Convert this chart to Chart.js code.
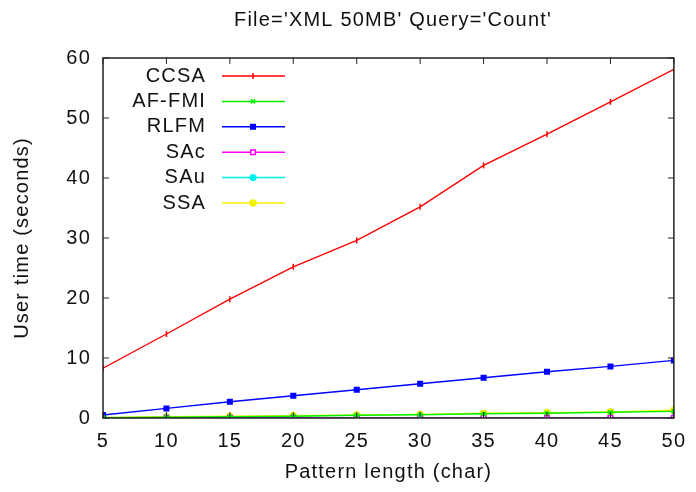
<!DOCTYPE html>
<html lang="en">
<head>
    <meta charset="UTF-8">
    <title>File='XML 50MB' Query='Count'</title>
    <script src="https://cdn.jsdelivr.net/npm/chart.js"></script>
    <style>
        body { margin: 0; background: #fff; }
        #wrap { width: 696px; height: 492px; position: relative; }
    </style>
</head>
<body>
    <div id="wrap"><canvas id="chart" width="696" height="492"></canvas></div>

    <script>
        // pattern lengths (x) and user times in seconds
        const patternLengths = [5, 10, 15, 20, 25, 30, 35, 40, 45, 50];
        const ccsa  = [8.3, 14.0, 19.8, 25.2, 29.6, 35.2, 42.1, 47.3, 52.7, 58.1];
        const afFmi = [0.05, 0.12, 0.2, 0.3, 0.45, 0.55, 0.7, 0.8, 0.95, 1.1];
        const rlfm  = [0.5, 1.6, 2.7, 3.7, 4.7, 5.7, 6.7, 7.7, 8.6, 9.6];
        const sac   = [0.02, 0.02, 0.02, 0.02, 0.02, 0.02, 0.02, 0.02, 0.02, 0.02];
        const sau   = [0.03, 0.03, 0.03, 0.03, 0.03, 0.03, 0.03, 0.03, 0.03, 0.03];
        const ssa   = [0.1, 0.2, 0.3, 0.4, 0.5, 0.6, 0.8, 0.9, 1.0, 1.3];
        const yTicks = [0, 10, 20, 30, 40, 50, 60];

        const FONT = '"Liberation Sans", Arial, sans-serif';
        const FS = 20;

        function series(label, values, color, style, radius) {
            return {
                label: label,
                data: patternLengths.map((x, i) => ({ x: x, y: values[i] })),
                borderColor: color,
                backgroundColor: color,
                borderWidth: 1.4,
                pointStyle: style,
                pointRadius: radius,
                pointBorderWidth: 1.5,
                tension: 0
            };
        }

        const datasets = [
            series('CCSA', ccsa, '#ff0000', 'line', 3),
            series('AF-FMI', afFmi, '#00f000', 'crossRot', 3),
            series('RLFM', rlfm, '#0000ff', 'rect', 3.2),
            series('SAc', sac, '#ff00ff', 'rect', 3.2),
            series('SAu', sau, '#00f0f0', 'circle', 2.8),
            series('SSA', ssa, '#f2f200', 'circle', 3)
        ];
        datasets[0].pointRotation = 90;
        datasets[3].backgroundColor = '#ffffff';

        // wider text like the gnuplot output
        const spacingPlugin = {
            id: 'spacing',
            beforeInit(chart) { chart.ctx.letterSpacing = '1.2px'; },
            beforeDraw(chart) { chart.ctx.letterSpacing = '1.2px'; }
        };

        // gnuplot-like frame, inward ticks and the legend inside the plot
        const framePlugin = {
            id: 'frame',
            afterDraw(chart) {
                const ctx = chart.ctx;
                const a = chart.chartArea;
                const xs = chart.scales.x, ys = chart.scales.y;
                ctx.save();
                ctx.strokeStyle = '#222';
                ctx.lineWidth = 1.5;
                ctx.strokeRect(a.left, a.top, a.right - a.left, a.bottom - a.top);
                ctx.lineWidth = 1;
                patternLengths.forEach(v => {
                    const px = xs.getPixelForValue(v);
                    ctx.beginPath();
                    ctx.moveTo(px, a.bottom); ctx.lineTo(px, a.bottom - 6);
                    ctx.moveTo(px, a.top); ctx.lineTo(px, a.top + 6);
                    ctx.stroke();
                });
                yTicks.forEach(v => {
                    const py = ys.getPixelForValue(v);
                    ctx.beginPath();
                    ctx.moveTo(a.left, py); ctx.lineTo(a.left + 6, py);
                    ctx.moveTo(a.right, py); ctx.lineTo(a.right - 6, py);
                    ctx.stroke();
                });

                // legend
                ctx.font = FS + 'px ' + FONT;
                ctx.textAlign = 'right';
                ctx.textBaseline = 'middle';
                chart.data.datasets.forEach((ds, i) => {
                    const y = a.top + 18 + i * 25.4;
                    ctx.fillStyle = '#111';
                    ctx.fillText(ds.label, 206, y);
                    ctx.strokeStyle = ds.borderColor;
                    ctx.lineWidth = 1.5;
                    ctx.beginPath();
                    ctx.moveTo(222, y); ctx.lineTo(285, y);
                    ctx.stroke();
                    ctx.fillStyle = ds.backgroundColor;
                    ctx.strokeStyle = ds.borderColor;
                    Chart.helpers.drawPoint(ctx, {
                        pointStyle: ds.pointStyle,
                        radius: ds.pointRadius,
                        rotation: ds.pointRotation || 0,
                        borderWidth: 1.5
                    }, 253, y);
                });

                // title
                ctx.textAlign = 'center';
                ctx.fillStyle = '#111';
                ctx.font = FS + 'px ' + FONT;
                ctx.fillText("File='XML 50MB' Query='Count'", 393, 20);
                ctx.restore();
            }
        };

        new Chart(document.getElementById('chart'), {
            type: 'line',
            data: { datasets: datasets },
            options: {
                responsive: false,
                animation: false,
                layout: { padding: { top: 58, right: 18, left: 0, bottom: 0 } },
                plugins: {
                    legend: { display: false },
                    tooltip: { enabled: false }
                },
                scales: {
                    x: {
                        type: 'linear',
                        min: 5,
                        max: 50,
                        afterFit(scale) { scale.height = 74; },
                        afterBuildTicks(scale) { scale.ticks = patternLengths.map(v => ({ value: v })); },
                        grid: { display: false, drawTicks: false },
                        border: { display: false },
                        ticks: { color: '#111', font: { family: FONT, size: FS }, padding: 11, maxRotation: 0 },
                        title: { display: true, text: 'Pattern length (char)', color: '#111', font: { family: FONT, size: FS }, padding: { top: 0, bottom: 8 } }
                    },
                    y: {
                        min: 0,
                        max: 60,
                        afterFit(scale) { scale.width = 103; },
                        afterBuildTicks(scale) { scale.ticks = yTicks.map(v => ({ value: v })); },
                        grid: { display: false, drawTicks: false },
                        border: { display: false },
                        ticks: { color: '#111', font: { family: FONT, size: FS }, padding: 12 },
                        title: { display: true, text: 'User time (seconds)', color: '#111', font: { family: FONT, size: FS }, padding: { top: 10, bottom: 0 } }
                    }
                }
            },
            plugins: [spacingPlugin, framePlugin]
        });
    </script>
</body>
</html>
